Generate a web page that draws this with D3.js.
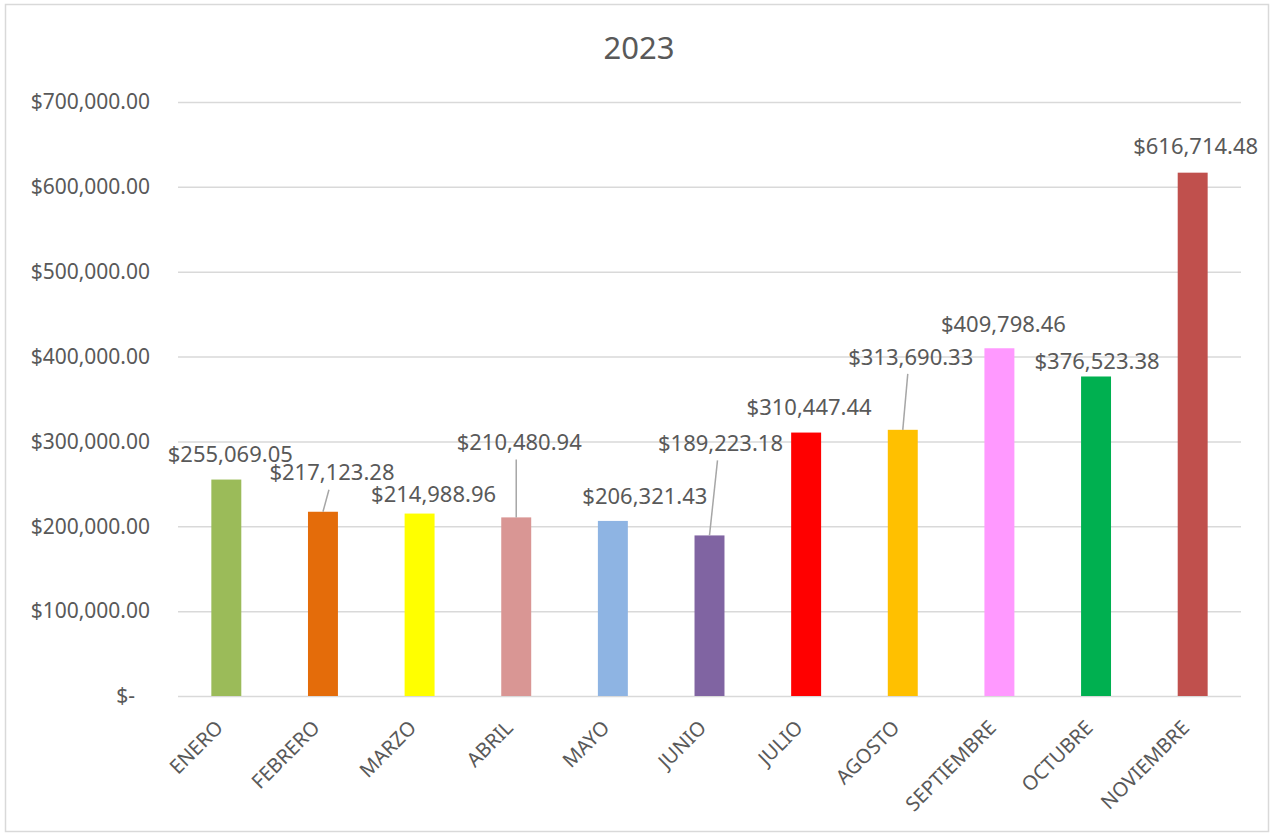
<!DOCTYPE html>
<html>
<head>
<meta charset="utf-8">
<script src="https://cdn.jsdelivr.net/npm/d3@7"></script>
<style>
  body { margin: 0; background: #fff; }
  svg { font-family: "Noto Sans", "Open Sans", sans-serif; }
</style>
</head>
<body>
<div id="chart"></div>
<script>
// data
const months = ["ENERO", "FEBRERO", "MARZO", "ABRIL", "MAYO", "JUNIO", "JULIO", "AGOSTO", "SEPTIEMBRE", "OCTUBRE", "NOVIEMBRE"];
const totals = [255069.05, 217123.28, 214988.96, 210480.94, 206321.43, 189223.18, 310447.44, 313690.33, 409798.46, 376523.38, 616714.48];
const barColors = ["#9BBB59", "#E46C0A", "#FFFF00", "#D99694", "#8EB4E3", "#8064A2", "#FF0000", "#FFC000", "#FF99FF", "#00B050", "#C0504D"];
const yTicks = [0, 100000, 200000, 300000, 400000, 500000, 600000, 700000];
const chartTitle = "2023";

// where Excel left the data labels (pixel offset from the bar top centre), leader flag
const labelShift = [
    [4, -25, false], [9, -39, true], [14, -19, false], [3, -75, true], [32, -25, false],
    [11, -92, true], [3, -25, false], [8, -73, true], [4, -24, false], [1, -15, false], [3, -26, false]
];

const width = 1272, height = 836;
const margin = { top: 102, right: 31, bottom: 140, left: 178 };

const svg = d3.select("#chart").append("svg")
    .attr("width", width)
    .attr("height", height);

// outer frame
svg.append("rect")
    .attr("x", 5.5).attr("y", 4.5)
    .attr("width", 1263).attr("height", 827)
    .attr("fill", "#fff")
    .attr("stroke", "#d9d9d9")
    .attr("stroke-width", 1.5);

let x = d3.scaleBand()
    .domain(months)
    .range([margin.left, width - margin.right])
    .paddingInner(0.69)
    .paddingOuter(0.345);

let y = d3.scaleLinear()
    .domain([0, 700000])
    .range([height - margin.bottom, margin.top]);

const fmt = d3.format(",.2f");
const money = v => v === 0 ? "$-" : "$" + fmt(v);

// title
svg.append("text")
    .attr("x", 639).attr("y", 59)
    .attr("text-anchor", "middle")
    .attr("font-size", 31)
    .attr("fill", "#595959")
    .text(chartTitle);

// grid + y labels
const yAxis = svg.append("g")
    .attr("transform", `translate(${margin.left},0)`)
    .call(d3.axisLeft(y).tickValues(yTicks).tickFormat(money)
        .tickSize(-(width - margin.left - margin.right)).tickPadding(28));
yAxis.select(".domain").remove();
yAxis.selectAll(".tick line").attr("stroke", "#d9d9d9").attr("stroke-width", 1.5);
yAxis.selectAll(".tick text")
    .attr("font-size", 21)
    .attr("font-family", "'Noto Sans', sans-serif")
    .attr("fill", "#595959")
    .attr("dx", d => d === 0 ? -15 : 0);

// bars
svg.selectAll("rect.bar")
    .data(totals)
    .join("rect")
    .attr("class", "bar")
    .attr("x", (d, i) => x(months[i]))
    .attr("y", d => y(d))
    .attr("width", x.bandwidth())
    .attr("height", d => y(0) - y(d))
    .attr("fill", (d, i) => barColors[i]);

// leader lines for moved labels
svg.selectAll("line.leader")
    .data(totals.map((v, i) => ({ v, i })).filter(d => labelShift[d.i][2]))
    .join("line")
    .attr("class", "leader")
    .attr("x1", d => x(months[d.i]) + x.bandwidth() / 2)
    .attr("y1", d => y(d.v))
    .attr("x2", d => x(months[d.i]) + x.bandwidth() / 2 + labelShift[d.i][0] - 3)
    .attr("y2", d => y(d.v) + labelShift[d.i][1] + 17)
    .attr("stroke", "#a6a6a6")
    .attr("stroke-width", 1.5);

// data labels
svg.selectAll("text.val")
    .data(totals)
    .join("text")
    .attr("class", "val")
    .attr("x", (d, i) => x(months[i]) + x.bandwidth() / 2 + labelShift[i][0])
    .attr("y", (d, i) => y(d) + labelShift[i][1])
    .attr("dy", "0.35em")
    .attr("text-anchor", "middle")
    .attr("font-size", 22)
    .attr("fill", "#595959")
    .text(money);

// x labels, rotated
svg.selectAll("text.month")
    .data(months)
    .join("text")
    .attr("class", "month")
    .attr("transform", d => `translate(${x(d) + x.bandwidth() / 2 - 2},${y(0) + 33}) rotate(-45)`)
    .attr("text-anchor", "end")
    .attr("font-size", 20)
    .attr("fill", "#595959")
    .text(d => d);
</script>
</body>
</html>
